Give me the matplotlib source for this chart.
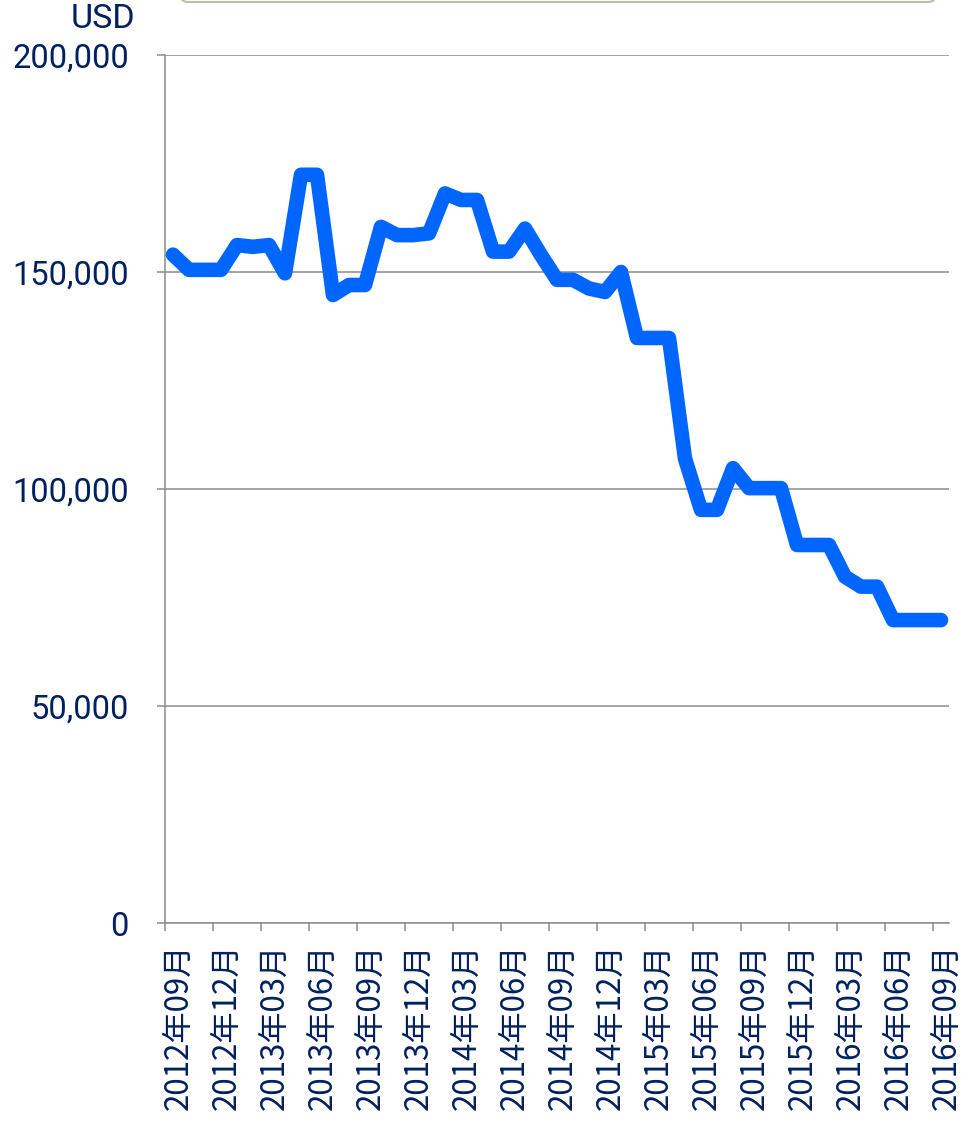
import numpy as np
import matplotlib.pyplot as plt
from matplotlib.patches import FancyBboxPatch
from matplotlib.transforms import ScaledTranslation

# monthly values, 2012-09 .. 2016-09 (USD)
values = [154000, 150500, 150500, 150500, 156200, 155800, 156200, 149700,
          172400, 172400, 144700, 147000, 147000, 160400, 158500, 158500,
          158900, 168100, 166600, 166600, 154700, 154700, 160000, 153900,
          148200, 148200, 146200, 145400, 150000, 134800, 134800, 134800,
          107000, 95200, 95200, 104800, 100200, 100200, 100200, 87100,
          87100, 87100, 79800, 77500, 77500, 69800, 69800, 69800, 69800]

tick_labels = ["2012年09月", "2012年12月", "2013年03月", "2013年06月",
               "2013年09月", "2013年12月", "2014年03月", "2014年06月",
               "2014年09月", "2014年12月", "2015年03月", "2015年06月",
               "2015年09月", "2015年12月", "2016年03月", "2016年06月",
               "2016年09月"]
y_ticks = [0, 50000, 100000, 150000, 200000]

NAVY = "#002060"
GRID = "#8c8c8c"
LINE = "#0066ff"

W, H = 975, 1122
fig = plt.figure(figsize=(W / 100, H / 100), dpi=100)
ax = fig.add_axes([165 / W, (H - 923) / H, (949 - 165) / W, (923 - 55) / H])

x = np.arange(len(values))
ax.plot(x, values, color=LINE, lw=10.5, solid_capstyle="round",
        solid_joinstyle="round", zorder=3)

ax.set_xlim(-0.5, len(values) - 0.5)
ax.set_ylim(0, 200000)

# y axis
ax.set_yticks(y_ticks)
ax.set_yticklabels([f"{v:,}" for v in y_ticks],
                   family=["Roboto", "DejaVu Sans"],
                   fontsize=23.5, color=NAVY)
ax.tick_params(axis="y", length=6, width=1.1, color=GRID, pad=20)
ax.grid(axis="y", color=GRID, lw=1.1, zorder=1)

# x axis: tick marks on category boundaries, labels on categories
ax.set_xticks(np.arange(-0.5, len(values), 3))
ax.set_xticklabels([])
ax.tick_params(axis="x", which="major", length=6, width=1.1, color=GRID)
ax.set_xticks(np.arange(0, len(values), 3), minor=True)
ax.set_xticklabels(tick_labels, minor=True, rotation=90,
                   family=["Noto Sans CJK JP", "DejaVu Sans"],
                   fontsize=22.5, color=NAVY, va="top", ha="center")
ax.tick_params(axis="x", which="minor", length=0, pad=15)
shift = ScaledTranslation(6 / 100, 0, fig.dpi_scale_trans)
for lab in ax.get_xticklabels(minor=True):
    lab.set_transform(lab.get_transform() + shift)

for s in ["top", "right"]:
    ax.spines[s].set_visible(False)
for s in ["left", "bottom"]:
    ax.spines[s].set_color(GRID)
    ax.spines[s].set_linewidth(1.1)
ax.spines["bottom"].set_zorder(2)

fig.text(135 / W, 1 - 19 / H, "USD", ha="right", va="center",
         fontsize=24.5, color=NAVY, family=["Roboto", "DejaVu Sans"])

# bottom edge of a box cut off at the top of the image
box = FancyBboxPatch((180 / W, 1 - 2 / H), (936 - 180) / W, 0.05,
                     boxstyle="round,pad=0,rounding_size=0.008",
                     transform=fig.transFigure, fc="white", ec="#b4c2ad",
                     lw=1.5, clip_on=False)
fig.patches.append(box)

fig.savefig("out.png", dpi=100)
